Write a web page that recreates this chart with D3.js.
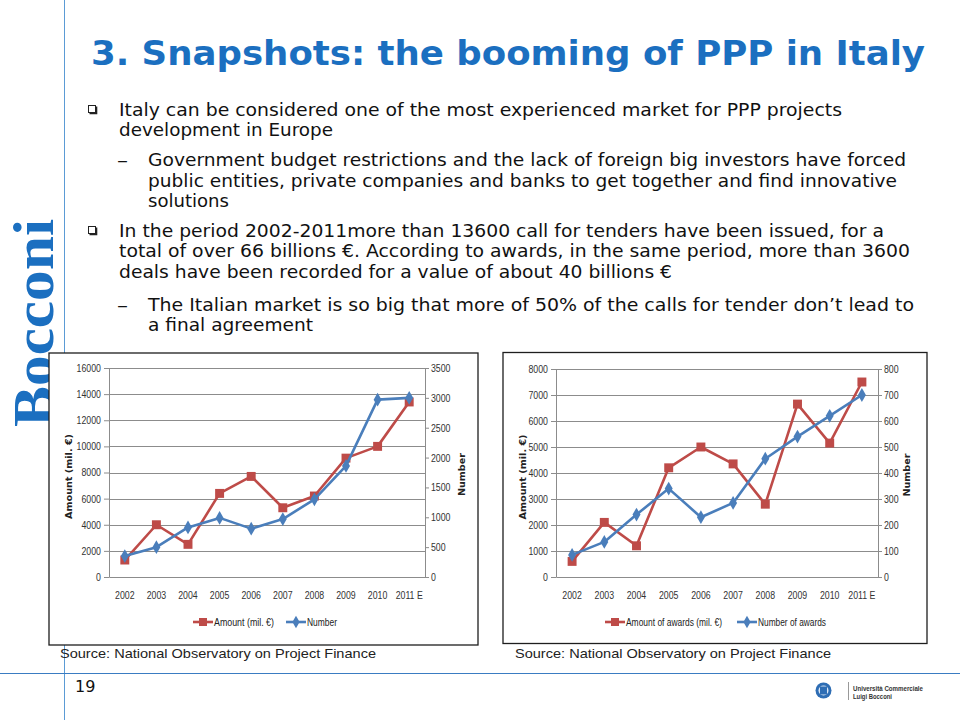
<!DOCTYPE html>
<html>
<head>
<meta charset="utf-8">
<script src="https://cdn.jsdelivr.net/npm/d3@7/dist/d3.min.js"></script>
<style>
  body { margin: 0; background: #fff; }
  svg { display: block; }
</style>
</head>
<body>
<svg id="slide" width="960" height="720"></svg>
<script>
// ---- data ----
const years = ["2002", "2003", "2004", "2005", "2006", "2007", "2008", "2009", "2010", "2011 E"];

// calls for tender
const callAmount = [1300, 4000, 2500, 6400, 7700, 5300, 6200, 9100, 10000, 13400];
const callNumber = [350, 500, 830, 990, 810, 970, 1300, 1860, 2970, 3000];
const callAmountTicks = [0, 2000, 4000, 6000, 8000, 10000, 12000, 14000, 16000];
const callNumberTicks = [0, 500, 1000, 1500, 2000, 2500, 3000, 3500];

// awards
const awardAmount = [600, 2100, 1200, 4200, 5000, 4350, 2800, 6650, 5150, 7500];
const awardNumber = [85, 135, 240, 340, 230, 285, 455, 540, 620, 700];
const awardAmountTicks = [0, 1000, 2000, 3000, 4000, 5000, 6000, 7000, 8000];
const awardNumberTicks = [0, 100, 200, 300, 400, 500, 600, 700, 800];

const titleText = "3. Snapshots: the booming of PPP in Italy";
const bodyLines = [
    // [text, level, baseline y, width]
    ["Italy can be considered one of the most experienced market for PPP projects", 1, 116, 723],
    ["development in Europe", 1, 136, 214],
    ["Government budget restrictions and the lack of foreign big investors have forced", 2, 166, 758],
    ["public entities, private companies and banks to get together and find innovative", 2, 187, 749],
    ["solutions", 2, 207, 81],
    ["In the period 2002-2011more than 13600 call for tenders have been issued, for a", 1, 237, 765],
    ["total of over 66 billions \u20AC. According to awards, in the same period, more than 3600", 1, 257, 791],
    ["deals have been recorded for a value of about 40 billions \u20AC", 1, 278, 553],
    ["The Italian market is so big that more of 50% of the calls for tender don\u2019t lead to", 2, 311, 766],
    ["a final agreement", 2, 331, 165]
];
const sourceText = "Source: National Observatory on Project Finance";

const blue = "#1b6fc0";
const red = "#BE4B48";
const lineBlue = "#4A7EBB";
const gridGray = "#8c8c8c";
const tickFont = "'Liberation Sans', Arial, sans-serif";
const bodyFont = "'DejaVu Sans', Verdana, sans-serif";

// squeeze a text horizontally, the chart fonts are narrow ones
function condense(sel, f) {
    sel.each(function () {
        const w = this.getComputedTextLength();
        d3.select(this).attr("textLength", w * f).attr("lengthAdjust", "spacingAndGlyphs");
    });
}

const svg = d3.select("#slide");
svg.append("rect").attr("width", 960).attr("height", 720).attr("fill", "#fff");

// slide furniture
svg.append("line")
    .attr("x1", 64.5).attr("x2", 64.5).attr("y1", 0).attr("y2", 720)
    .attr("stroke", "#5b9bd5").attr("stroke-width", 1);
svg.append("line")
    .attr("x1", 0).attr("x2", 960).attr("y1", 673.5).attr("y2", 673.5)
    .attr("stroke", "#3a7cc2").attr("stroke-width", 1.2);

svg.append("text")
    .attr("transform", "translate(53,427) rotate(-90)")
    .attr("font-family", "'Liberation Serif', 'DejaVu Serif', serif")
    .attr("font-weight", "bold")
    .attr("font-size", 58)
    .attr("fill", blue)
    .attr("textLength", 208)
    .attr("lengthAdjust", "spacingAndGlyphs")
    .text("Bocconi");

svg.append("text")
    .attr("x", 91).attr("y", 65)
    .attr("font-family", "'DejaVu Sans Condensed', 'DejaVu Sans', Tahoma, sans-serif")
    .attr("font-weight", "bold")
    .attr("font-size", 34)
    .attr("fill", blue)
    .attr("textLength", 834)
    .attr("lengthAdjust", "spacingAndGlyphs")
    .text(titleText);

// bullet text
const body = svg.append("g").attr("font-family", bodyFont).attr("font-size", 17).attr("fill", "#111");
bodyLines.forEach(function (l, i) {
    const x0 = l[1] === 1 ? 119 : 148;
    body.append("text")
        .attr("x", x0).attr("y", l[2])
        .attr("textLength", l[3])
        .attr("lengthAdjust", "spacingAndGlyphs")
        .text(l[0]);
    const first = i === 0 || i === 5 || i === 2 || i === 8;
    if (!first) return;
    if (l[1] === 1) {
        body.append("rect").attr("x", 88.5).attr("y", l[2] - 10.5).attr("width", 7).attr("height", 7)
            .attr("fill", "#fff").attr("stroke", "#222").attr("stroke-width", 1);
        body.append("polyline")
            .attr("points", `89.5,${l[2] - 2.5} 96.5,${l[2] - 2.5} 96.5,${l[2] - 9.5}`)
            .attr("fill", "none").attr("stroke", "#222").attr("stroke-width", 1.6);
    } else {
        body.append("text").attr("x", 117).attr("y", l[2])
            .attr("textLength", 11).attr("lengthAdjust", "spacingAndGlyphs").text("\u2013");
    }
});

// ---- charts ----
function drawChart(opt) {
    const g = svg.append("g");

    g.append("rect")
        .attr("x", opt.box[0]).attr("y", opt.box[1])
        .attr("width", opt.box[2]).attr("height", opt.box[3])
        .attr("fill", "#fff").attr("stroke", "#1e1e1e").attr("stroke-width", 1.3);

    const x = d3.scaleBand().domain(years).range([opt.left, opt.right]);
    const yA = d3.scaleLinear().domain([0, d3.max(opt.amountTicks)]).range([opt.bottom, opt.top]);
    const yN = d3.scaleLinear().domain([0, d3.max(opt.numberTicks)]).range([opt.bottom, opt.top]);
    const cx = d => x(d) + x.bandwidth() / 2;

    // gridlines
    g.append("g").selectAll("line").data(opt.amountTicks.slice(1)).join("line")
        .attr("x1", opt.left).attr("x2", opt.right)
        .attr("y1", d => Math.round(yA(d)) + 0.5).attr("y2", d => Math.round(yA(d)) + 0.5)
        .attr("stroke", gridGray).attr("stroke-width", 1);

    const leftAxis = g.append("g")
        .attr("transform", `translate(${opt.left},0)`)
        .call(d3.axisLeft(yA).tickValues(opt.amountTicks).tickFormat(d3.format("d")).tickSize(5).tickSizeOuter(0).tickPadding(3));
    const rightAxis = g.append("g")
        .attr("transform", `translate(${opt.right},0)`)
        .call(d3.axisRight(yN).tickValues(opt.numberTicks).tickFormat(d3.format("d")).tickSize(4).tickSizeOuter(0).tickPadding(2));
    const bottomAxis = g.append("g")
        .attr("transform", `translate(0,${opt.bottom})`)
        .call(d3.axisBottom(x).tickSize(0).tickSizeOuter(0).tickPadding(14));

    [leftAxis, rightAxis, bottomAxis].forEach(function (a) {
        a.select(".domain").attr("stroke", gridGray);
        a.selectAll(".tick line").attr("stroke", gridGray);
        a.selectAll("text").attr("font-family", tickFont).attr("font-size", 10.7).attr("fill", "#333");
        condense(a.selectAll("text"), 0.82);
    });

    // axis titles
    g.append("text")
        .attr("transform", `translate(${opt.titleL},${(opt.top + opt.bottom) / 2 + 4}) rotate(-90)`)
        .attr("text-anchor", "middle")
        .attr("font-family", bodyFont).attr("font-weight", "bold").attr("font-size", 9.5).attr("fill", "#222")
        .attr("textLength", 85).attr("lengthAdjust", "spacingAndGlyphs")
        .text("Amount (mil. \u20AC)");
    g.append("text")
        .attr("transform", `translate(${opt.titleR},${(opt.top + opt.bottom) / 2 + 2}) rotate(-90)`)
        .attr("text-anchor", "middle")
        .attr("font-family", bodyFont).attr("font-weight", "bold").attr("font-size", 9.5).attr("fill", "#222")
        .attr("textLength", 43).attr("lengthAdjust", "spacingAndGlyphs")
        .text("Number");

    // series
    const lineA = d3.line().x((d, i) => cx(years[i])).y(d => yA(d));
    const lineN = d3.line().x((d, i) => cx(years[i])).y(d => yN(d));

    g.append("path").datum(opt.amount)
        .attr("fill", "none").attr("stroke", red).attr("stroke-width", 2.6).attr("stroke-linejoin", "round")
        .attr("d", lineA);
    g.append("g").selectAll("path").data(opt.amount).join("path")
        .attr("transform", (d, i) => `translate(${cx(years[i])},${yA(d)})`)
        .attr("d", d3.symbol(d3.symbolSquare, 80))
        .attr("fill", red);

    g.append("path").datum(opt.number)
        .attr("fill", "none").attr("stroke", lineBlue).attr("stroke-width", 2.6).attr("stroke-linejoin", "round")
        .attr("d", lineN);
    g.append("g").selectAll("path").data(opt.number).join("path")
        .attr("transform", (d, i) => `translate(${cx(years[i])},${yN(d)})`)
        .attr("d", d3.symbol(d3.symbolDiamond, 55))
        .attr("fill", lineBlue);

    // legend
    const lg = g.append("g").attr("font-family", tickFont).attr("font-size", 10.7).attr("fill", "#222");
    opt.legend.forEach(function (item) {
        lg.append("line")
            .attr("x1", item.x).attr("x2", item.x + 20).attr("y1", 622).attr("y2", 622)
            .attr("stroke", item.color).attr("stroke-width", 2.6);
        lg.append("path")
            .attr("transform", `translate(${item.x + 10},622)`)
            .attr("d", d3.symbol(item.symbol, item.symbol === d3.symbolSquare ? 64 : 45))
            .attr("fill", item.color);
        lg.append("text").attr("x", item.x + 21).attr("y", 626)
            .attr("textLength", item.width).attr("lengthAdjust", "spacingAndGlyphs")
            .text(item.label);
    });

    // source note
    svg.append("text")
        .attr("x", opt.sourceX).attr("y", 658)
        .attr("font-family", "'Liberation Sans', Arial, sans-serif").attr("font-size", 13.5).attr("fill", "#222")
        .attr("textLength", 316).attr("lengthAdjust", "spacingAndGlyphs")
        .text(sourceText);
}

drawChart({
    box: [49, 353, 429, 292],
    left: 109, right: 425, top: 368, bottom: 577,
    titleL: 72, titleR: 465,
    amount: callAmount, number: callNumber,
    amountTicks: callAmountTicks, numberTicks: callNumberTicks,
    legend: [
        { x: 193, color: red, symbol: d3.symbolSquare, label: "Amount (mil. \u20AC)", width: 60 },
        { x: 286, color: lineBlue, symbol: d3.symbolDiamond, label: "Number", width: 30 }
    ],
    sourceX: 60
});

drawChart({
    box: [503, 352.5, 424, 291],
    left: 556, right: 878, top: 369, bottom: 577,
    titleL: 526, titleR: 910,
    amount: awardAmount, number: awardNumber,
    amountTicks: awardAmountTicks, numberTicks: awardNumberTicks,
    legend: [
        { x: 605, color: red, symbol: d3.symbolSquare, label: "Amount of awards (mil. \u20AC)", width: 96 },
        { x: 737, color: lineBlue, symbol: d3.symbolDiamond, label: "Number of awards", width: 68 }
    ],
    sourceX: 515
});

// university mark, bottom right
const logo = svg.append("g");
logo.append("circle").attr("cx", 823.5).attr("cy", 690.5).attr("r", 8).attr("fill", "#2e6db4");
logo.append("circle").attr("cx", 823.5).attr("cy", 690.5).attr("r", 5).attr("fill", "#dce8f5");
logo.append("rect").attr("x", 820).attr("y", 686.5).attr("width", 7).attr("height", 8).attr("fill", "#2e6db4");
logo.append("line").attr("x1", 848.5).attr("x2", 848.5).attr("y1", 682).attr("y2", 700).attr("stroke", "#999");
logo.append("text").attr("x", 853).attr("y", 691)
    .attr("font-family", "'Liberation Sans', Arial, sans-serif").attr("font-weight", "bold").attr("font-size", 7).attr("fill", "#333")
    .attr("textLength", 70).attr("lengthAdjust", "spacingAndGlyphs").text("Universit\u00E0 Commerciale");
logo.append("text").attr("x", 853).attr("y", 698.5)
    .attr("font-family", "'Liberation Sans', Arial, sans-serif").attr("font-weight", "bold").attr("font-size", 7).attr("fill", "#333")
    .attr("textLength", 39).attr("lengthAdjust", "spacingAndGlyphs").text("Luigi Bocconi");

// page number
svg.append("text").attr("x", 75).attr("y", 692)
    .attr("font-family", bodyFont).attr("font-size", 16).attr("fill", "#111")
    .text("19");
</script>
</body>
</html>
